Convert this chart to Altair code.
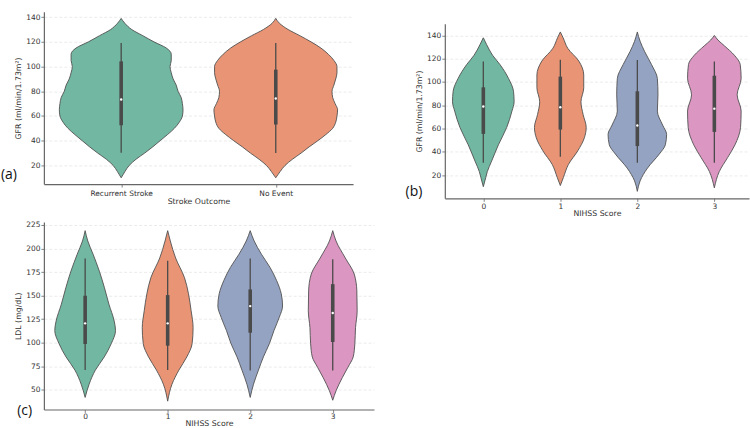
import altair as alt
import pandas as pd

# ---------------- shared styling ----------------
FONT = "DejaVu Sans"
TAG_FONT = "Open Sans"
EDGE = "#505050"
BOX_GRAY = "#4a4a4a"
PALETTE = ["#71b7a1", "#e99575", "#95a3c3", "#db96c1"]  # muted Set2
HALF = 0.4  # half of the violin width (in category units)

# ---------------- (a) GFR by stroke outcome ----------------
OUTCOMES = ["Recurrent Stroke", "No Event"]
GFR_OUTCOME_LEVELS = [10, 15, 20, 25, 30, 35, 40, 45, 50, 55, 60, 65, 70, 75,
                      80, 85, 90, 95, 100, 105, 110, 115, 120, 125, 130, 135, 139]
GFR_DENSITY_RECURRENT = [0, .06, .13, .24, .38, .51, .63, .75, .86, .94, .99, 1.00, .99, .97,
                         .92, .89, .84, .81, .79, .81, .81, .73, .53, .35, .17, .06, 0]
GFR_DENSITY_NO_EVENT = [0, .07, .15, .27, .41, .54, .68, .81, .92, .97, .99, 1.00, .96, .92,
                        .91, .94, .97, .99, .99, .94, .85, .73, .57, .39, .20, .06, 0]
GFR_OUTCOME_LOW = [30.2, 30.0]
GFR_OUTCOME_Q1 = [52.5, 53.1]
GFR_OUTCOME_MEDIAN = [73.3, 74.1]
GFR_OUTCOME_Q3 = [104.2, 97.5]
GFR_OUTCOME_HIGH = [119.0, 119.0]

# ---------------- (b) GFR by NIHSS score ----------------
NIHSS = ["0", "1", "2", "3"]
GFR_NIHSS_LEVELS = [
    [10, 18, 23, 32, 46, 61, 75, 83, 92, 103, 115, 123, 132, 138],
    [11, 18, 29, 41, 52, 61, 72, 83, 95, 106, 118, 129, 138, 143],
    [6, 15, 26, 38, 46, 55, 63, 75, 89, 103, 115, 126, 135, 143],
    [9, 23, 35, 46, 61, 75, 89, 103, 115, 123, 131, 136, 140],
]
GFR_NIHSS_DENSITY = [
    [0, .08, .13, .27, .49, .76, .93, 1.00, .98, .82, .54, .30, .11, 0],
    [0, .10, .26, .57, .78, .84, .74, .67, .76, .76, .60, .24, .09, 0],
    [0, .09, .33, .71, .91, .95, .82, .65, .67, .65, .46, .24, .09, 0],
    [0, .16, .43, .67, .85, .87, .74, .87, .84, .65, .33, .12, 0],
]
GFR_NIHSS_LOW = [30.6, 35.7, 30.6, 30.6]
GFR_NIHSS_Q1 = [55.4, 59.1, 44.9, 57.1]
GFR_NIHSS_MEDIAN = [78.9, 78.3, 62.6, 77.1]
GFR_NIHSS_Q3 = [95.4, 104.6, 92.0, 105.4]
GFR_NIHSS_HIGH = [117.7, 119.1, 119.0, 117.7]

# ---------------- (c) LDL by NIHSS score ----------------
LDL_NIHSS_LEVELS = [
    [42, 56, 71, 85, 99, 113, 123, 141, 159, 176, 194, 208, 219],
    [38, 56, 71, 85, 99, 116, 134, 152, 169, 190, 208, 219],
    [42, 56, 71, 85, 99, 113, 127, 139, 152, 166, 180, 194, 208, 219],
    [39, 49, 63, 74, 85, 99, 116, 134, 155, 173, 190, 208, 219],
]
LDL_NIHSS_DENSITY = [
    [0, .12, .31, .58, .79, .92, .88, .72, .58, .43, .24, .08, 0],
    [0, .13, .34, .58, .74, .77, .71, .63, .51, .24, .08, 0],
    [0, .10, .25, .40, .58, .72, .88, .98, .94, .80, .60, .34, .12, 0],
    [0, .10, .29, .46, .62, .67, .69, .74, .73, .65, .38, .10, 0],
]
LDL_NIHSS_LOW = [71.2, 71.2, 70.5, 70.5]
LDL_NIHSS_Q1 = [98.7, 96.9, 110.7, 100.8]
LDL_NIHSS_MEDIAN = [120.6, 120.6, 138.9, 131.5]
LDL_NIHSS_Q3 = [149.9, 150.6, 156.6, 162.2]
LDL_NIHSS_HIGH = [189.4, 187.0, 189.4, 188.7]

GFR_TICKS = [20, 40, 60, 80, 100, 120, 140]
LDL_TICKS = [50, 75, 100, 125, 150, 175, 200, 225]


def violin_table(categories, levels, densities):
    rows = []
    for pos, (cat, lv, dn) in enumerate(zip(categories, levels, densities)):
        for value, dens in zip(lv, dn):
            rows.append({"group": cat, "pos": pos, "value": value, "density": dens})
    return pd.DataFrame(rows)


def box_table(categories, low, q1, med, q3, high):
    return pd.DataFrame({
        "group": categories,
        "pos": list(range(len(categories))),
        "low": low, "q1": q1, "median": med, "q3": q3, "high": high,
    })


def violin_panel(categories, levels, densities, stats, *, y_title, x_title,
                 y_domain, y_ticks, x_domain, width, height, tag, tag_x, tag_y,
                 y_range=None, x_label_pad=1, x_title_pad=1, y_title_pad=3):
    n = len(categories)
    names = "[" + ",".join("'" + c + "'" for c in categories) + "]"
    x_scale = alt.Scale(domain=x_domain, nice=False, zero=False)
    x_axis = alt.Axis(values=list(range(n)), labelExpr=names + "[datum.value]",
                      title=x_title, grid=False, tickSize=3,
                      labelPadding=x_label_pad, titlePadding=x_title_pad)
    y_opts = dict(domain=y_domain, nice=False, zero=False)
    if y_range is not None:
        y_opts["range"] = y_range
    y_scale = alt.Scale(**y_opts)
    y_axis = alt.Axis(values=y_ticks, title=y_title, grid=True, format="d",
                      tickSize=3, labelPadding=1, titlePadding=y_title_pad)
    color = alt.Color("group:N", scale=alt.Scale(domain=categories, range=PALETTE[:n]),
                      legend=None)

    # each violin is one horizontal area, traced along the value axis
    body = (
        alt.Chart(violin_table(categories, levels, densities))
        .transform_calculate(
            left=f"datum.pos - {HALF} * datum.density",
            right=f"datum.pos + {HALF} * datum.density",
        )
        .mark_area(orient="horizontal", interpolate="monotone", stroke=EDGE,
                   strokeWidth=0.9, fillOpacity=1)
        .encode(
            y=alt.Y("value:Q", scale=y_scale, axis=y_axis),
            x=alt.X("left:Q", scale=x_scale, axis=x_axis),
            x2="right:Q",
            color=color,
            detail="group:N",
        )
    )

    boxes = alt.Chart(box_table(categories, *stats))
    px = alt.X("pos:Q", scale=x_scale, axis=x_axis)
    whisker = boxes.mark_rule(color=BOX_GRAY, strokeWidth=1.3).encode(
        x=px, y=alt.Y("low:Q", scale=y_scale, axis=y_axis), y2="high:Q")
    iqr = boxes.mark_rule(color=BOX_GRAY, strokeWidth=3.6, strokeCap="butt").encode(
        x=px, y=alt.Y("q1:Q", scale=y_scale, axis=y_axis), y2="q3:Q")
    mid = boxes.mark_circle(color="white", size=6, opacity=1).encode(
        x=px, y=alt.Y("median:Q", scale=y_scale, axis=y_axis))

    label = alt.Chart(pd.DataFrame({"tag": [tag]})).mark_text(
        align="left", baseline="middle", font=TAG_FONT, fontSize=14, color="#111111"
    ).encode(text="tag:N", x=alt.value(tag_x), y=alt.value(tag_y))

    return alt.layer(body, whisker, iqr, mid, label).properties(width=width, height=height)


panel_a = violin_panel(
    OUTCOMES, [GFR_OUTCOME_LEVELS, GFR_OUTCOME_LEVELS],
    [GFR_DENSITY_RECURRENT, GFR_DENSITY_NO_EVENT],
    (GFR_OUTCOME_LOW, GFR_OUTCOME_Q1, GFR_OUTCOME_MEDIAN, GFR_OUTCOME_Q3, GFR_OUTCOME_HIGH),
    y_title="GFR (ml/min/1.73m²)", x_title="Stroke Outcome",
    y_domain=[4.9, 144.3], y_ticks=GFR_TICKS, x_domain=[-0.5, 1.5],
    width=310, height=172.7, tag="(a)", tag_x=-43, tag_y=163.7,
    x_label_pad=2, x_title_pad=1,
)

panel_b = violin_panel(
    NIHSS, GFR_NIHSS_LEVELS, GFR_NIHSS_DENSITY,
    (GFR_NIHSS_LOW, GFR_NIHSS_Q1, GFR_NIHSS_MEDIAN, GFR_NIHSS_Q3, GFR_NIHSS_HIGH),
    y_title="GFR (ml/min/1.73m²)", x_title="NIHSS Score",
    y_domain=[0, 150], y_range=[187, 12], y_ticks=GFR_TICKS, x_domain=[-0.5, 3.45],
    width=305, height=187, tag="(b)", tag_x=-39.3, tag_y=180.7,
    x_label_pad=1, x_title_pad=0,
)

panel_c = violin_panel(
    NIHSS, LDL_NIHSS_LEVELS, LDL_NIHSS_DENSITY,
    (LDL_NIHSS_LOW, LDL_NIHSS_Q1, LDL_NIHSS_MEDIAN, LDL_NIHSS_Q3, LDL_NIHSS_HIGH),
    y_title="LDL (mg/dL)", x_title="NIHSS Score",
    y_domain=[29.2, 228.2], y_ticks=LDL_TICKS, x_domain=[-0.5, 3.5],
    width=331, height=188, tag="(c)", tag_x=-26.7, tag_y=190,
    x_label_pad=0, x_title_pad=0,
)

chart = (
    alt.concat(panel_a, panel_b, panel_c, columns=2,
               spacing={"row": 23.7, "column": 71}, bounds="flush", align="each")
    .resolve_scale(color="independent")
    .properties(padding={"left": 0, "top": 10.3, "right": 0, "bottom": 0},
                background="white")
    .configure_view(stroke="transparent")
    .configure_axis(
        labelFont=FONT, titleFont=FONT, labelFontSize=7.5, titleFontSize=7.8,
        labelColor="#333333", titleColor="#333333", titleFontWeight="normal",
        domainColor="#666666", domainWidth=1.2, tickColor="#666666", tickWidth=0.8,
        gridColor="#e6e6e6", gridDash=[3, 2], gridWidth=0.8,
    )
)

chart.save("out.html", embed_options={"renderer": "svg", "actions": False})
